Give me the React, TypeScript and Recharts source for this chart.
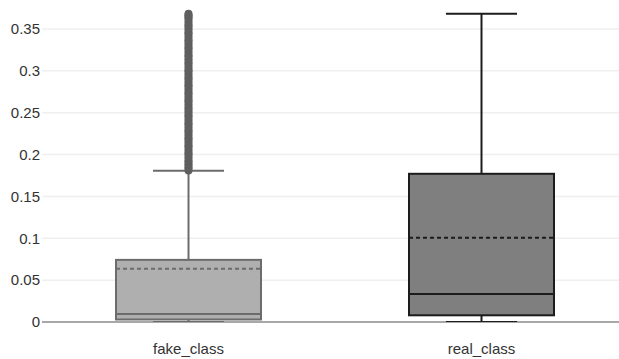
import { ComposedChart, Bar, Scatter, XAxis, YAxis, CartesianGrid } from "recharts";

// box statistics per class
const categories = ["fake_class", "real_class"];
const minValues = [0, 0];
const q1Values = [0.003, 0.008];
const medianValues = [0.0095, 0.0335];
const meanValues = [0.0635, 0.1005];
const q3Values = [0.0742, 0.177];
const maxValues = [0.1805, 0.368];

// outliers above the fake_class upper fence
const fakeOutliers = [
  0.182, 0.186, 0.19, 0.194, 0.199, 0.203, 0.208, 0.212, 0.217, 0.221,
  0.226, 0.23, 0.235, 0.239, 0.244, 0.248, 0.253, 0.257, 0.262, 0.266,
  0.271, 0.275, 0.28, 0.284, 0.289, 0.293, 0.298, 0.302, 0.307, 0.311,
  0.316, 0.32, 0.325, 0.329, 0.334, 0.338, 0.343, 0.347, 0.352, 0.356,
  0.361, 0.365, 0.367,
];

const yTicks = [0, 0.05, 0.1, 0.15, 0.2, 0.25, 0.3, 0.35];

const fills = ["#afafaf", "#7f7f7f"];
const strokes = ["#6c6c6c", "#1c1c1c"];

const data = categories.map((name, i) => ({
  name,
  idx: i,
  box: [q1Values[i], q3Values[i]],
  min: minValues[i],
  q1: q1Values[i],
  median: medianValues[i],
  mean: meanValues[i],
  q3: q3Values[i],
  max: maxValues[i],
}));

const outlierData = fakeOutliers.map((v) => ({ name: categories[0], out: v }));

const font = "Arial, 'Liberation Sans', sans-serif";

const BoxShape = (props: any) => {
  const { x, y, width, height, payload } = props;
  const h = Math.abs(height);
  const top = height < 0 ? y + height : y;
  const k = h / (payload.q3 - payload.q1);
  const py = (v: number) => top + (payload.q3 - v) * k;
  const cx = x + width / 2;
  const cap = width * 0.245;
  const stroke = strokes[payload.idx];
  const fill = fills[payload.idx];
  return (
    <g>
      <line x1={cx} x2={cx} y1={py(payload.max)} y2={top} stroke={stroke} strokeWidth={2} />
      <line x1={cx} x2={cx} y1={top + h} y2={py(payload.min)} stroke={stroke} strokeWidth={2} />
      <line x1={cx - cap} x2={cx + cap} y1={py(payload.max)} y2={py(payload.max)} stroke={stroke} strokeWidth={2} />
      <line x1={cx - cap} x2={cx + cap} y1={py(payload.min)} y2={py(payload.min)} stroke={stroke} strokeWidth={2} />
      <rect x={x} y={top} width={width} height={h} fill={fill} stroke={stroke} strokeWidth={2} />
      <line x1={x} x2={x + width} y1={py(payload.median)} y2={py(payload.median)} stroke={stroke} strokeWidth={2} />
      <line
        x1={x}
        x2={x + width}
        y1={py(payload.mean)}
        y2={py(payload.mean)}
        stroke={stroke}
        strokeWidth={2}
        strokeDasharray="4 3"
      />
    </g>
  );
};

// tall rounded marks so the dense outliers read as one solid column
const OutlierDot = (props: any) => (
  <rect x={props.cx - 4} y={props.cy - 5} width={8} height={10} rx={4} fill="#5f5f5f" />
);

// grid lines only at the tick values, nothing along the top edge
const GridLine = (p: any) =>
  p.y1 < 12 ? (
    <g key={`h-${p.index}`} />
  ) : (
    <line key={`h-${p.index}`} x1={p.x1} x2={p.x2} y1={p.y1} y2={p.y2} stroke={p.stroke} strokeWidth={p.strokeWidth} />
  );

export default function App() {
  return (
    <div style={{ position: "fixed", left: 0, top: 0, width: 619, height: 359, overflow: "hidden", background: "#fff" }}>
      <ComposedChart width={632} height={359} data={data} margin={{ top: 8, right: 4, bottom: 0, left: 0 }}>
        <CartesianGrid vertical={false} horizontal={GridLine} horizontalValues={yTicks} stroke="#efefef" strokeWidth={1.5} />
        <CartesianGrid vertical={false} horizontalValues={[0]} stroke="#a8a8a8" strokeWidth={2} />
        <XAxis
          dataKey="name"
          allowDuplicatedCategory={false}
          height={37}
          tickSize={0}
          tickMargin={21}
          axisLine={false}
          tick={{ fill: "#333", fontSize: 15, fontFamily: font }}
        />
        <YAxis
          type="number"
          domain={[0, 0.375]}
          ticks={yTicks}
          width={42}
          tickSize={0}
          tickMargin={2}
          axisLine={false}
          allowDataOverflow
          tick={{ fill: "#333", fontSize: 15, fontFamily: font }}
        />
        <Bar dataKey="box" barSize={145} shape={BoxShape} isAnimationActive={false} />
        <Scatter data={outlierData} dataKey="out" shape={OutlierDot} isAnimationActive={false} />
      </ComposedChart>
    </div>
  );
}
